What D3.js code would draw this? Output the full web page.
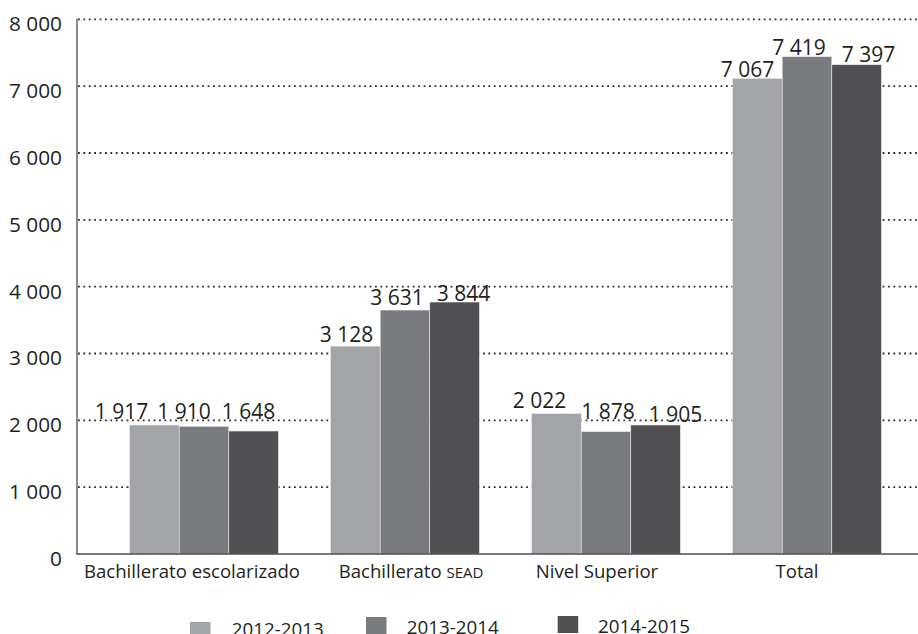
<!DOCTYPE html>
<html>
<head>
<meta charset="utf-8">
<script src="https://cdn.jsdelivr.net/npm/d3@7"></script>
<style>
  html, body { margin: 0; padding: 0; background: #fff; }
  svg { display: block; font-family: "Open Sans", "Noto Sans", sans-serif; }
</style>
</head>
<body>
<svg id="chart" width="918" height="634"></svg>
<script>
// ---- data ----
const categories = ["Bachillerato escolarizado", "Bachillerato SEAD", "Nivel Superior", "Total"];
const seriesNames = ["2012-2013", "2013-2014", "2014-2015"];
// printed value labels
const labels2012 = [1917, 3128, 2022, 7067];
const labels2013 = [1910, 3631, 1878, 7419];
const labels2014 = [1648, 3844, 1905, 7397];
// bar heights as drawn in the picture
const bars2012 = [1930, 3110, 2100, 7115];
const bars2013 = [1910, 3650, 1830, 7440];
const bars2014 = [1840, 3770, 1930, 7320];
const yTicks = [0, 1000, 2000, 3000, 4000, 5000, 6000, 7000, 8000];

// ---- layout / style ----
const colors = ["#a3a4a8", "#7a7b7f", "#505053"];
const textColor = "#231f20";
// small hand-placement nudges of the printed labels (pixels)
const labelNudgeX = [[-33, -20, -5], [-9, -8, 9], [-17, 2, 20], [-10, -8, 12]];
const labelNudgeY = [[-2, -3, -8], [0, -1, 3], [-2, -9, 1], [3, 2, 1]];
const catNudgeX = [-12, 6, -9, -10];

const svg = d3.select("#chart");
const axisX = 77, baseY = 554, topY = 19.3, rightX = 918;

const y = d3.scaleLinear().domain([0, 8000]).range([baseY, topY]);
const x0 = d3.scaleBand().domain(categories).range([103.5, 907.5])
  .paddingInner(0.26).paddingOuter(0.13);
const x1 = d3.scaleBand().domain(seriesNames).range([0, x0.bandwidth()]).padding(0);
const color = d3.scaleOrdinal().domain(seriesNames).range(colors);

const barSeries = [bars2012, bars2013, bars2014];
const labelSeries = [labels2012, labels2013, labels2014];
const fmt = v => d3.format(",")(v).replace(/,/g, "\u2009".replace("\u2009", " "));

// gridlines
svg.append("g").selectAll("line")
  .data(yTicks.filter(t => t > 0))
  .join("line")
  .attr("x1", axisX + 1).attr("x2", rightX)
  .attr("y1", d => y(d)).attr("y2", d => y(d))
  .attr("stroke", "#2b2b2b").attr("stroke-width", 1.8)
  .attr("stroke-dasharray", "1.8,3.6");

// y tick labels via axis
const yAxis = d3.axisLeft(y).tickValues(yTicks).tickSize(0).tickPadding(0)
  .tickFormat(d => fmt(d));
const gy = svg.append("g").attr("transform", `translate(62,0)`).call(yAxis);
gy.select(".domain").remove();
gy.selectAll("text")
  .attr("font-family", "Open Sans").attr("font-size", 20.8)
  .attr("fill", textColor).attr("dy", 11.5).attr("x", 0);

// bars
const groups = svg.append("g").selectAll("g")
  .data(categories)
  .join("g")
  .attr("transform", d => `translate(${x0(d)},0)`);

groups.selectAll("rect")
  .data((c, ci) => seriesNames.map((s, si) => ({ s, si, ci, v: barSeries[si][ci] })))
  .join("rect")
  .attr("x", d => x1(d.s))
  .attr("width", x1.bandwidth())
  .attr("y", d => y(d.v))
  .attr("height", d => baseY - y(d.v))
  .attr("fill", d => color(d.s))
  .attr("stroke", "#e6e6e8").attr("stroke-width", 0.6);

// value labels
groups.selectAll("text.val")
  .data((c, ci) => seriesNames.map((s, si) => ({ s, si, ci, v: barSeries[si][ci], lab: labelSeries[si][ci] })))
  .join("text")
  .attr("class", "val")
  .attr("x", d => x1(d.s) + x1.bandwidth() / 2 + labelNudgeX[d.ci][d.si])
  .attr("y", d => y(d.v) - 4 + labelNudgeY[d.ci][d.si])
  .attr("text-anchor", "middle")
  .attr("font-size", 21)
  .attr("fill", textColor)
  .text(d => fmt(d.lab));

// axes lines
svg.append("line").attr("x1", axisX).attr("x2", axisX).attr("y1", topY - 0.5).attr("y2", baseY)
  .attr("stroke", "#6d6e71").attr("stroke-width", 1.6);
svg.append("line").attr("x1", axisX - 0.8).attr("x2", rightX).attr("y1", baseY).attr("y2", baseY)
  .attr("stroke", "#4d4d4f").attr("stroke-width", 1.6);

// category labels
const catText = svg.append("g").selectAll("text")
  .data(categories)
  .join("text")
  .attr("x", (d, i) => x0(d) + x0.bandwidth() / 2 + catNudgeX[i])
  .attr("y", 578.3)
  .attr("text-anchor", "middle")
  .attr("font-size", 18.6)
  .attr("fill", textColor);
catText.each(function(d) {
  const t = d3.select(this);
  if (d.endsWith("SEAD")) {
    t.append("tspan").text(d.replace("SEAD", ""));
    t.append("tspan").attr("font-size", 15).text("SEAD");
  } else {
    t.text(d);
  }
});

// legend
const legendSquareX = [190, 366, 557.7];
const legendSquareY = [622, 617, 616];
const legendTextX = [231.7, 406.7, 598];
const legendTextY = [636, 634, 632.7];
const leg = svg.append("g").selectAll("g").data(seriesNames).join("g");
leg.append("rect")
  .attr("x", (d, i) => legendSquareX[i]).attr("y", (d, i) => legendSquareY[i])
  .attr("width", 20.5).attr("height", 17)
  .attr("fill", d => color(d));
leg.append("text")
  .attr("x", (d, i) => legendTextX[i]).attr("y", (d, i) => legendTextY[i])
  .attr("font-size", 18.8).attr("fill", textColor)
  .text(d => d);
</script>
</body>
</html>
